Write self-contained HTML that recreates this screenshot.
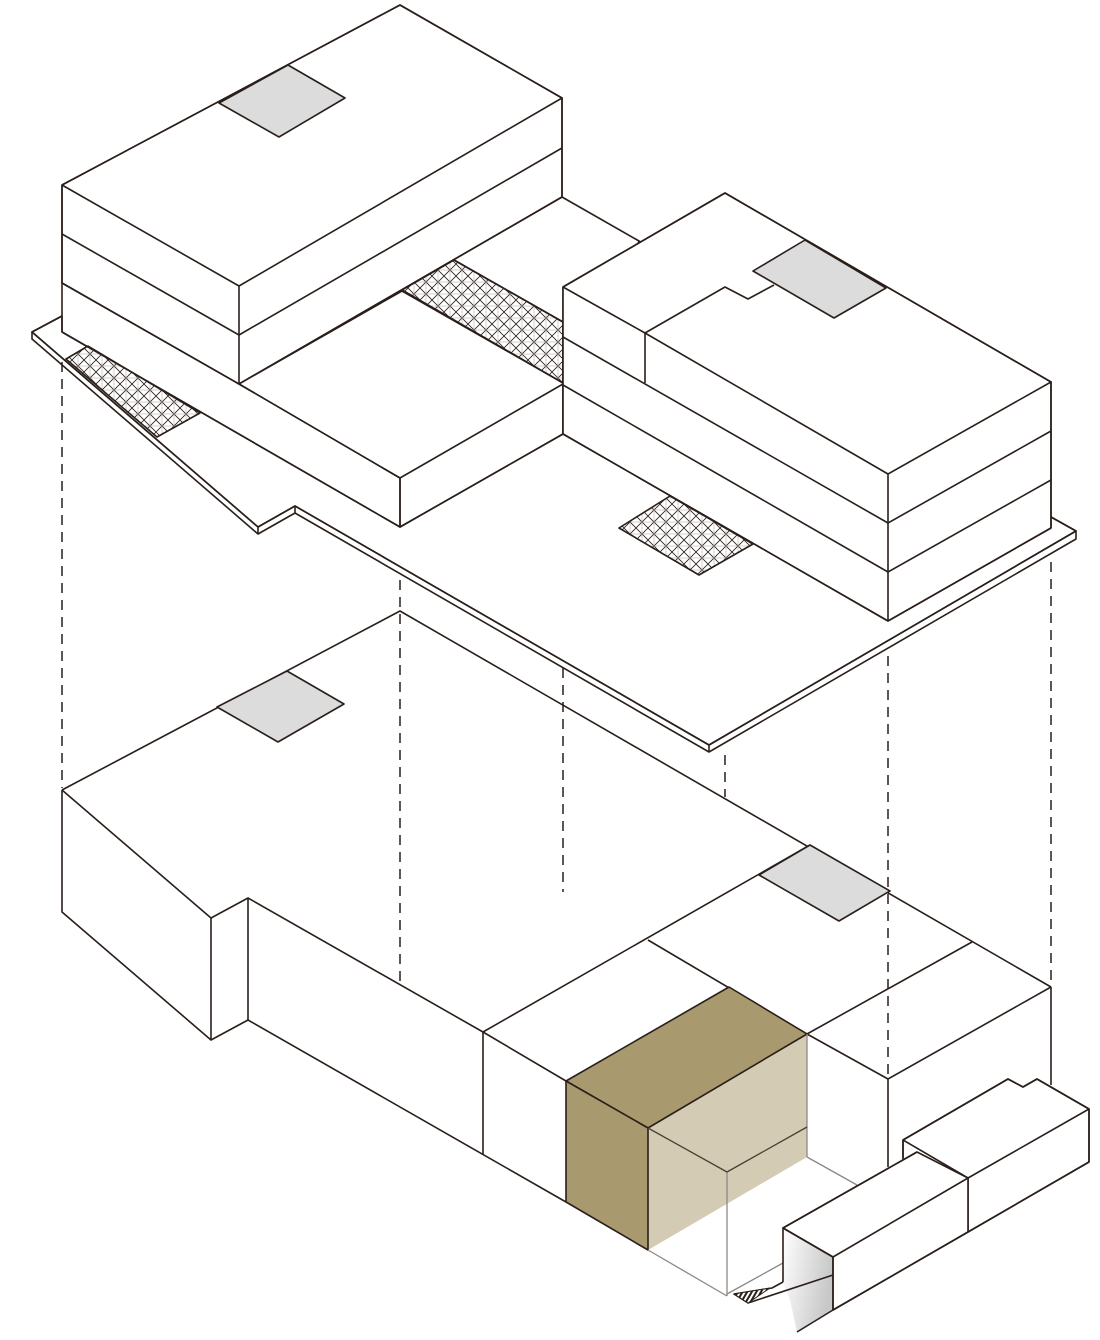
<!DOCTYPE html>
<html><head><meta charset="utf-8"><style>html,body{margin:0;padding:0;background:#fff}svg{display:block}</style></head>
<body>
<svg width="1100" height="1340" viewBox="0 0 1100 1340" xmlns="http://www.w3.org/2000/svg">
<defs>
<pattern id="h" width="12" height="12" patternUnits="userSpaceOnUse">
<rect width="12" height="12" fill="#fff"/>
<path d="M0 0L12 12M12 0L0 12" stroke="#2a1f1a" stroke-width="0.8"/>
<path d="M6 0V12M0 6H12" stroke="#aaa39d" stroke-width="0.5"/>
</pattern>
<pattern id="s" width="4" height="4" patternUnits="userSpaceOnUse" patternTransform="rotate(30)">
<rect width="4" height="4" fill="#fff"/>
<rect width="2" height="4" fill="#2a1f1a"/>
</pattern>
<linearGradient id="g" x1="0" y1="0" x2="1" y2="0.3">
<stop offset="0" stop-color="#fff"/><stop offset="1" stop-color="#c8c8c8"/>
</linearGradient>
</defs>
<g fill="none" stroke="#2a1f1a" stroke-width="1.6" stroke-linejoin="round">

<g stroke-dasharray="10,7" stroke-width="1.5">
<line x1="62" y1="362" x2="62" y2="788"/>
<line x1="400" y1="580" x2="400" y2="985"/>
<line x1="563" y1="668" x2="563" y2="892"/>
<line x1="725" y1="755" x2="725" y2="797"/>
<line x1="888" y1="656" x2="888" y2="1079"/>
<line x1="1051" y1="562" x2="1051" y2="986"/>
</g>

<polygon fill="#fff" points="32,332 62,316 62,332 400,527 562,434 639,241 1051,517 1076,531 709,745 295,506 258,527"/>
<polyline points="62,316 32,332 258,527 295,506 709,745 1076,531 1051,517"/>
<polyline points="32,332 32,339 258,534 258,527"/>
<polyline points="258,534 295,513 295,506"/>
<polyline points="295,513 709,752 1076,539 1076,531"/>
<line x1="709" y1="745" x2="709" y2="752"/>
<line x1="562" y1="197" x2="639" y2="241"/>

<polygon fill="url(#h)" points="66,359 88,346 200,413 157,437"/>
<polygon fill="url(#h)" points="402,290 454,260 563,322 563,383"/>
<polygon fill="url(#h)" points="619,528 670,496 753,544 699,575"/>

<line x1="62" y1="332" x2="400" y2="527"/>

<polygon fill="#fff" points="62,185 400,5 562,98 562,197 239,384 62,283"/>
<polyline points="62,185 400,5 562,98 239,286 62,185"/>
<polygon fill="#dcdcdc" points="219,103 288,65 345,98 279,137"/>
<line x1="62" y1="185" x2="62" y2="332"/>
<line x1="62" y1="234" x2="239" y2="335"/>
<line x1="62" y1="283" x2="239" y2="384"/>
<line x1="239" y1="286" x2="239" y2="384"/>
<line x1="562" y1="98" x2="562" y2="197"/>
<line x1="562" y1="148" x2="239" y2="335"/>
<line x1="562" y1="197" x2="239" y2="384"/>

<polygon fill="#fff" points="239,384 402,291 563,383 563,434 400,527 400,478"/>
<line x1="239" y1="384" x2="400" y2="478"/>
<polyline points="400,478 563,384"/>
<line x1="400" y1="478" x2="400" y2="527"/>
<line x1="400" y1="527" x2="563" y2="434"/>
<line x1="402" y1="290" x2="563" y2="383"/>
<line x1="454" y1="260" x2="563" y2="322"/>
<line x1="563" y1="287" x2="563" y2="434"/>

<polygon fill="#fff" points="563,287 725,193 1051,382 1051,528 888,621 563,434"/>
<polyline points="563,287 725,193 1051,382 888,474 645,333 563,287"/>
<polyline points="645,333 725,287 748,299 774,285"/>
<polygon fill="#dcdcdc" points="753,271 805,240 886,288 834,318"/>
<line x1="645" y1="333" x2="645" y2="383"/>
<line x1="563" y1="337" x2="888" y2="523"/>
<line x1="563" y1="385" x2="888" y2="572"/>
<line x1="563" y1="434" x2="888" y2="621"/>
<line x1="888" y1="474" x2="888" y2="621"/>
<line x1="1051" y1="382" x2="1051" y2="528"/>
<line x1="888" y1="523" x2="1051" y2="431"/>
<line x1="888" y1="572" x2="1051" y2="480"/>
<line x1="888" y1="621" x2="1051" y2="528"/>

<polyline points="62,790 400,611 1051,987"/>
<polygon fill="#dcdcdc" points="217,707 287,671 344,704 278,742"/>
<polyline points="62,790 211,918 248,898 483,1032"/>
<polyline points="62,790 62,912 211,1040 248,1020 566,1202"/>
<line x1="211" y1="918" x2="211" y2="1040"/>
<line x1="248" y1="898" x2="248" y2="1020"/>
<line x1="483" y1="1032" x2="483" y2="1155"/>
<line x1="483" y1="1032" x2="810" y2="845"/>
<polygon fill="#dcdcdc" points="759,875 810,845 890,891 839,921"/>
<line x1="483" y1="1032" x2="566" y2="1081"/>
<line x1="648" y1="940" x2="807" y2="1034"/>
<line x1="807" y1="1034" x2="972" y2="942"/>
<line x1="807" y1="1034" x2="888" y2="1079"/>
<line x1="888" y1="1079" x2="1051" y2="987"/>
<line x1="1051" y1="987" x2="1051" y2="1085"/>
<line x1="888" y1="1079" x2="888" y2="1167"/>

<polygon fill="#d4cbb5" stroke="none" points="648,1128 807,1034 807,1157 648,1250"/>
<polygon fill="#a89a6e" points="566,1081 729,987 807,1034 648,1128"/>
<polygon fill="#a89a6e" points="566,1081 648,1128 648,1250 566,1202"/>
<g stroke="#8e8884" stroke-width="1.3">
<line x1="807" y1="1034" x2="807" y2="1157"/>
<line x1="648" y1="1250" x2="727" y2="1296"/>
<line x1="727" y1="1172" x2="727" y2="1296"/>
<line x1="807" y1="1157" x2="857" y2="1185"/>
<line x1="727" y1="1294" x2="783" y2="1263"/>
</g>
<g stroke="#4a3e33" stroke-width="1.3">
<line x1="648" y1="1128" x2="727" y2="1172"/>
<line x1="727" y1="1172" x2="807" y2="1127"/>
</g>

<polygon fill="#fff" points="903,1140 1008,1079 1023,1087 1037,1079 1089,1109 1089,1162 968,1232 903,1195"/>
<polyline points="903,1158 903,1140 1008,1079 1023,1087 1037,1079 1089,1109 968,1178 903,1140"/>
<line x1="1089" y1="1109" x2="1089" y2="1162"/>
<line x1="1089" y1="1162" x2="968" y2="1232"/>
<line x1="968" y1="1178" x2="968" y2="1232"/>

<polygon fill="url(#g)" stroke="none" points="783,1228 833,1257 833,1310 797,1332 790,1300 783,1282"/>
<polygon fill="#fff" points="783,1228 917,1152 968,1178 968,1232 833,1310 833,1257"/>
<polyline points="783,1282 783,1228 917,1152"/>
<polyline points="783,1228 833,1257 968,1178"/>
<line x1="833" y1="1257" x2="833" y2="1310"/>
<line x1="833" y1="1310" x2="968" y2="1232"/>
<line x1="797" y1="1332" x2="833" y2="1310"/>
<polyline points="783,1282 772,1288 734,1294 748,1303 833,1275"/>
<polygon fill="url(#s)" stroke-width="1" points="734,1294 748,1303 770,1288"/>
</g>
</svg>
</body></html>
